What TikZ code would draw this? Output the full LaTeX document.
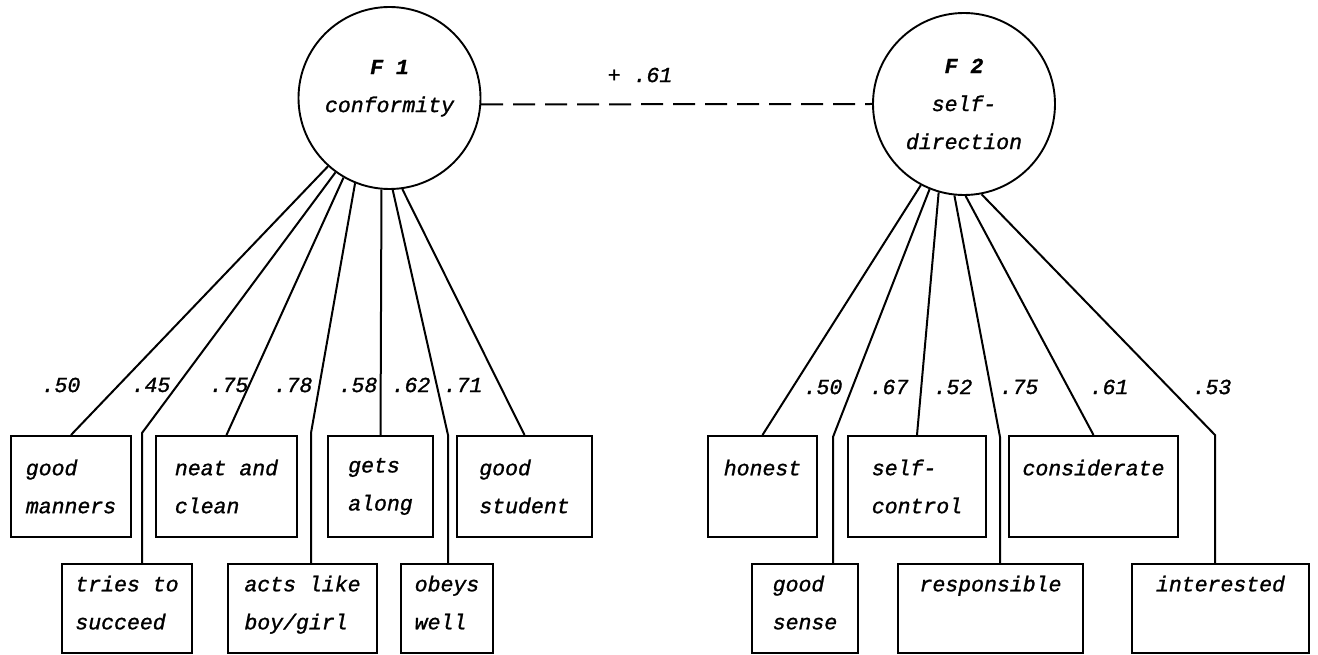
\documentclass[tikz,border=0pt]{standalone}
\usepackage{fontspec}
\setmonofont{Liberation Mono}[FakeBold=1.2]
\usepackage{tikz}

\tikzset{
  factor/.style={circle,draw,line width=1.9pt,inner sep=0,minimum size=182pt,align=center},
  item/.style={rectangle,draw,line width=2pt,inner sep=0,align=left},
  loading/.style={inner sep=0},
  link/.style={line width=2pt},
}

\begin{document}
\begin{tikzpicture}[x=1pt,y=-1pt,font=\ttfamily\itshape\fontsize{21.5}{38}\selectfont]
  \useasboundingbox (0,0) rectangle (1318,655);
  % factors
  \node [factor] (F1) at (389.5,98) {\textbf{F 1}\\conformity\\[-14pt]\mbox{}};
  \node [factor] (F2) at (964,104) {\textbf{F 2}\\self-\\direction};
  \draw [link,dash pattern=on 22pt off 10pt] (F1.-4) -- (F2.west);
  \node [loading] (r12) at (640,75) {+ .61};
  % upper row of items
  \foreach \nm/\cx/\bw/\txt in {manners/71/120/{good\\manners}, neat/226.5/141/{neat and\\clean},
      gets/380.5/105/{gets\\along}, student/524.5/135/{good\\student}, honest/762.5/109/{honest\\\mbox{}},
      selfcontrol/917/138/{self-\\control}, considerate/1093.5/169/{considerate\\\mbox{}}} {
    \node [item,minimum width=\bw pt,minimum height=101pt] (\nm) at (\cx,486.5) {\txt};
  }
  % lower row of items
  \foreach \nm/\cx/\bw/\txt in {succeed/127/130/{tries to\\succeed}, boygirl/302.5/149/{acts like\\boy/girl},
      obeys/447/92/{obeys\\well}, goodsense/805/106/{good\\sense}, responsible/990.5/185/{responsible\\\mbox{}},
      interested/1220.5/177/{interested\\\mbox{}}} {
    \node [item,minimum width=\bw pt,minimum height=89pt] (\nm) at (\cx,608.5) {\txt\\[-26pt]\mbox{}};
  }
  % bends of the long connectors
  \coordinate (k2) at (142,433);
  \coordinate (k4) at (311,433);
  \coordinate (k6) at (448,435);
  \coordinate (k8) at (833,437);
  \coordinate (k10) at (1000,437);
  \coordinate (k12) at (1215,435);
  \foreach \a/\nm in {-132/manners,-120/neat,-95/gets,-82/student} {
    \draw [link] (F1.\a) -- (\nm.north);
  }
  \foreach \a/\k/\nm in {-126/k2/succeed,-112/k4/boygirl,-88/k6/obeys} {
    \draw [link] (F1.\a) -- (\k) -- (\k |- \nm.north);
  }
  \foreach \a/\nm in {-118/honest,-106/selfcontrol,-89/considerate} {
    \draw [link] (F2.\a) -- (\nm.north);
  }
  \foreach \a/\k/\nm in {-112/k8/goodsense,-96/k10/responsible,-79/k12/interested} {
    \draw [link] (F2.\a) -- (\k) -- (\k |- \nm.north);
  }
  % loadings
  \foreach \nm/\cx/\txt in {a1/61/.50, a2/151/.45, a3/229/.75, a4/293/.78, a5/358/.58, a6/411/.62, a7/463/.71} {
    \node [loading] (\nm) at (\cx,385) {\txt};
  }
  \foreach \nm/\cx/\txt in {b1/823/.50, b2/889/.67, b3/953/.52, b4/1019/.75, b5/1109/.61, b6/1212/.53} {
    \node [loading] (\nm) at (\cx,387) {\txt};
  }
\end{tikzpicture}
\end{document}
